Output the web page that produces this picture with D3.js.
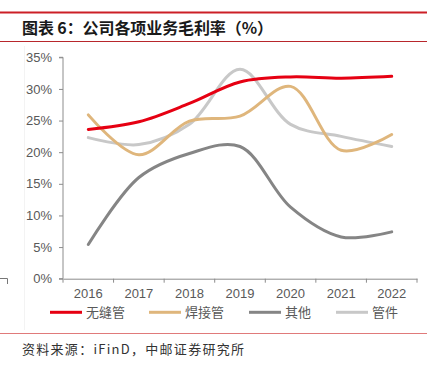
<!DOCTYPE html>
<html><head><meta charset="utf-8">
<script src="https://cdn.jsdelivr.net/npm/d3@7"></script>
<style>body{margin:0;background:#fff}svg{display:block}</style>
</head><body>
<script>
const years = ["2016","2017","2018","2019","2020","2021","2022"];
const seamless = [23.6, 24.8, 27.7, 31.1, 31.9, 31.7, 32.0];
const welded   = [25.9, 19.6, 24.9, 25.7, 30.4, 20.3, 22.8];
const other    = [5.4, 16.0, 19.8, 20.9, 11.3, 6.6, 7.4];
const fittings = [22.3, 21.2, 24.4, 33.1, 24.4, 22.5, 20.9];
const seriesNames = ["无缝管","焊接管","其他","管件"];
const seriesColors = ["#e60012","#dfb67c","#858585","#c8c8c8"];
const yTicks = [0,5,10,15,20,25,30,35];

const W=435,H=374;
const svg=d3.select("body").append("svg").attr("width",W).attr("height",H);

// frame lines
svg.append("line").attr("x1",0).attr("x2",427).attr("y1",12.5).attr("y2",12.5).attr("stroke","#cc1f26").attr("stroke-width",2);
svg.append("line").attr("x1",0).attr("x2",427).attr("y1",41.5).attr("y2",41.5).attr("stroke","#b8272c").attr("stroke-width",1);
svg.append("line").attr("x1",0).attr("x2",427).attr("y1",333.5).attr("y2",333.5).attr("stroke","#e07a7a").attr("stroke-width",1);
svg.append("line").attr("x1",24.5).attr("x2",24.5).attr("y1",46).attr("y2",330).attr("stroke","#f3f3f3").attr("stroke-width",1);
svg.append("path").attr("d","M0,278.5H7.5V284").attr("fill","none").attr("stroke","#777").attr("stroke-width",1);

svg.append("text").attr("x",22).attr("y",34).text("图表 6：公司各项业务毛利率（%）")
  .attr("font-family","'Noto Sans CJK SC'").attr("font-weight","bold").attr("font-size",16).attr("fill","#1a1a1a")
  .attr("textLength",251).attr("lengthAdjust","spacing");
svg.append("text").attr("x",22).attr("y",354).text("资料来源：iFinD，中邮证券研究所")
  .attr("font-family","'Noto Sans CJK SC'").attr("font-size",13).attr("fill","#333")
  .attr("textLength",222).attr("lengthAdjust","spacing");

const x=d3.scaleBand().domain(years).range([63,417]);
const y=d3.scaleLinear().domain([0,35]).range([278.7,57.3]);

const gy=svg.append("g").attr("transform","translate(63,0)")
  .call(d3.axisLeft(y).tickValues(yTicks).tickFormat(d=>d+"%").tickSize(4).tickPadding(7));
const gx=svg.append("g").attr("transform","translate(0,278.7)")
  .call(d3.axisBottom(x).tickSize(0).tickPadding(10));
// band boundary ticks on x-axis
gx.selectAll(".bt").data(d3.range(years.length+1)).enter().append("line")
  .attr("x1",i=>63+i*x.step()).attr("x2",i=>63+i*x.step()).attr("y1",0).attr("y2",4).attr("stroke","#8c8c8c");
[gx,gy].forEach(g=>{
  g.selectAll(".domain").attr("stroke","#8c8c8c");
  g.selectAll(".tick line").attr("stroke","#8c8c8c");
  g.selectAll("text").attr("font-family","'Liberation Sans',Arial,sans-serif").attr("font-size",13).attr("fill","#595959");
});
gy.select(".domain").attr("d","M-4,57.3H0V278.7H-4");

const allSeries=[seamless,welded,other,fittings];
const line=d3.line().x((d,i)=>x(years[i])+x.bandwidth()/2).y(d=>y(d)).curve(d3.curveCatmullRom.alpha(0.5));
[3,2,1,0].forEach(k=>{
  svg.append("path").datum(allSeries[k]).attr("d",line).attr("fill","none")
    .attr("stroke",seriesColors[k]).attr("stroke-width",3).attr("stroke-linecap","round");
});

// legend
const legX=[50,149,249,336];
seriesNames.forEach((n,k)=>{
  svg.append("line").attr("x1",legX[k]).attr("x2",legX[k]+32).attr("y1",312.3).attr("y2",312.3)
    .attr("stroke",seriesColors[k]).attr("stroke-width",3);
  svg.append("text").attr("x",legX[k]+36).attr("y",317).text(n)
    .attr("font-family","'Noto Sans CJK SC'").attr("font-size",13).attr("fill","#595959");
});
</script>
</body></html>
